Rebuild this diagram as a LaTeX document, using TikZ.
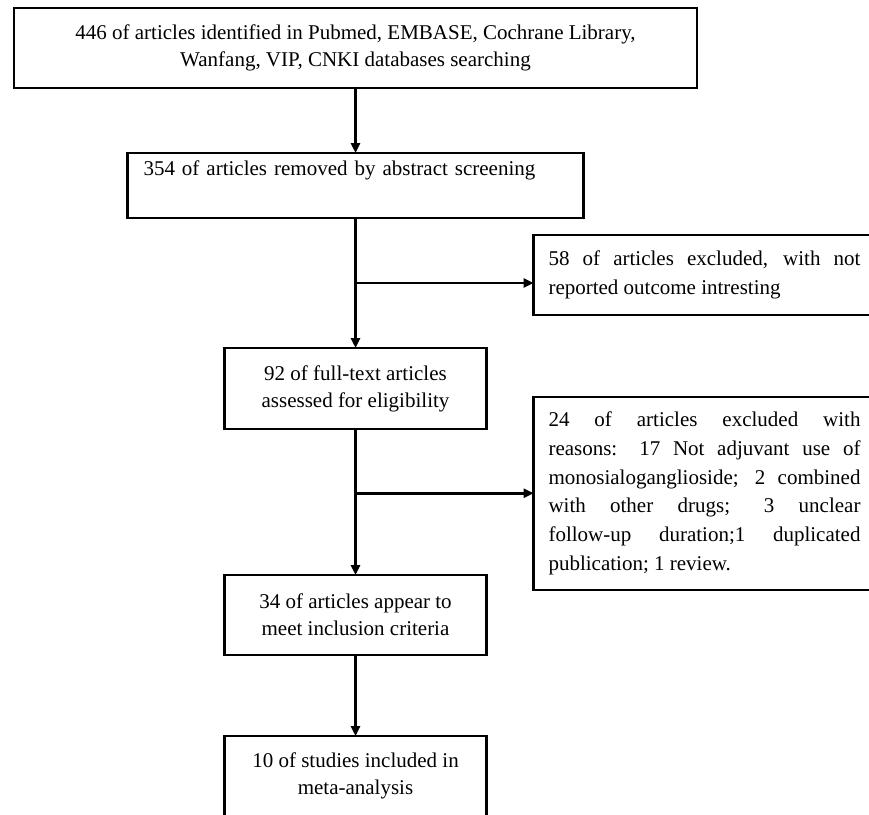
\documentclass[tikz,border=0pt]{standalone}
\usepackage{fontspec}
\setmainfont{Liberation Serif}
\usetikzlibrary{arrows.meta, positioning, calc}
\tikzset{
  stepbox/.style={rectangle, draw=black, line width=2.2pt, outer sep=0pt, inner sep=0pt, align=center, font=\fontsize{21}{27}\selectfont},
  sidebox/.style={rectangle, draw=black, line width=2.2pt, outer sep=0pt, inner xsep=15pt, inner ysep=0pt, text width=312pt, align=justify, anchor=west, font=\fontsize{21}{28.7}\selectfont},
  arrow/.style={-{Triangle[length=10pt, width=9pt]}, line width=2.6pt},
}
\begin{document}
\begin{tikzpicture}[x=1pt, y=1pt]
\useasboundingbox (0,0) rectangle (869,-814);
\clip (0,0) rectangle (869,-814);
\node[stepbox, minimum width=683pt, minimum height=80pt] (s1) at (355.5,-48) {446 of articles identified in Pubmed, EMBASE, Cochrane Library,\\Wanfang, VIP, CNKI databases searching};
\node[stepbox, below=65pt of s1, minimum width=456pt, minimum height=65pt, text width=424pt, align=left] (s2) {354 of articles removed by abstract screening\\\strut};
\node[stepbox, below=130pt of s2, minimum width=262pt, minimum height=81pt] (s3) {92 of full-text articles\\assessed for eligibility};
\node[stepbox, below=146pt of s3, minimum width=262pt, minimum height=80pt] (s4) {34 of articles appear to\\meet inclusion criteria};
\node[stepbox, below=81pt of s4, minimum width=262pt, minimum height=80pt] (s5) {10 of studies included in\\meta-analysis};
\coordinate (j1) at ($(s2.south)!0.5!(s3.north)$);
\coordinate (j2) at ($(s3.south)!0.44!(s4.north)$);
\node[sidebox, right=178pt of j1, yshift=8pt, minimum height=80pt] (e58) {58 of articles excluded, with not\linebreak reported outcome intresting};
\node[sidebox, right=178pt of j2, minimum height=193pt] (e24) {24 of articles excluded with\linebreak reasons: 17 Not adjuvant use of\linebreak monosialoganglioside; 2 combined\linebreak with other drugs; 3 unclear\linebreak follow-up duration;1 duplicated\linebreak publication; 1 review.};
\draw[arrow](s1)--(s2);
\draw[arrow](s2)--(s3);
\draw[arrow](s3)--(s4);
\draw[arrow](s4)--(s5);
\draw[arrow](j1)--(j1 -| e58.west);
\draw[arrow](j2)--(e24);
\end{tikzpicture}
\end{document}
